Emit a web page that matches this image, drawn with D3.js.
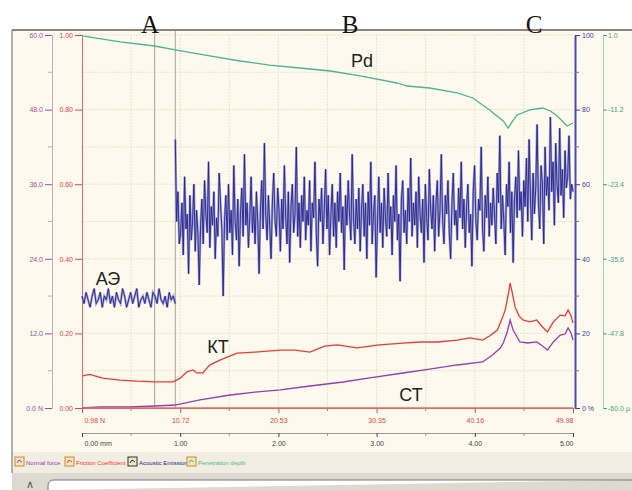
<!DOCTYPE html>
<html>
<head>
<meta charset="utf-8">
<script src="https://d3js.org/d3.v7.min.js"></script>
<style>
  body { margin: 0; background: #fff; }
  svg { display: block; }
  .axis text { font-family: "Liberation Sans", Arial, sans-serif; font-size: 7px; }
  .lbl { font-family: "Liberation Sans", Arial, sans-serif; font-size: 18px; fill: #222; }
  .mark { font-family: "Liberation Serif", "Times New Roman", serif; font-size: 25px; fill: #111; }
</style>
</head>
<body>
<script>
// distance along scratch, mm
var loadLabels = ["0.98 N", "10.72", "20.53", "30.35", "40.16", "49.98"];
var distLabels = ["0.00 mm", "1.00", "2.00", "3.00", "4.00", "5.00"];
var forceLabels = ["0.0 N", "12.0", "24.0", "36.0", "48.0", "60.0"];
var muLabels = ["0.00", "0.20", "0.40", "0.60", "0.80", "1.00"];
var aeLabels = ["0 %", "20", "40", "60", "80", "100"];
var pdLabels = ["-60.0 µ", "-47.8", "-35.6", "-23.4", "-11.2", "1.0"];

// КТ - friction coefficient
var ktDist = [0.01,0.08,0.21,0.39,0.56,0.74,0.93,1.00,1.07,1.13,1.17,1.23,1.30,1.41,1.58,1.76,2.02,2.17,2.32,2.47,2.60,2.80,3.03,3.27,3.44,3.62,3.82,3.95,4.08,4.15,4.23,4.28,4.31,4.34,4.36,4.38,4.41,4.45,4.49,4.56,4.63,4.68,4.74,4.80,4.87,4.92,4.95,4.98,5.00];
var ktVals = [0.086,0.090,0.080,0.075,0.072,0.070,0.070,0.080,0.097,0.102,0.094,0.094,0.115,0.129,0.147,0.150,0.155,0.155,0.150,0.166,0.169,0.161,0.169,0.174,0.177,0.177,0.182,0.188,0.182,0.193,0.209,0.241,0.263,0.303,0.335,0.311,0.271,0.247,0.236,0.231,0.236,0.220,0.204,0.231,0.249,0.247,0.263,0.247,0.228];

// СТ - force, N
var ctDist = [0,0.18,0.49,0.74,0.95,1.20,1.51,1.76,2.02,2.32,2.66,2.93,3.27,3.54,3.82,4.08,4.18,4.26,4.29,4.33,4.36,4.39,4.43,4.46,4.54,4.63,4.69,4.74,4.80,4.87,4.92,4.95,4.98,5.00];
var ctVals = [0.0,0.16,0.16,0.32,0.48,1.29,2.09,2.57,2.90,3.54,4.18,4.83,5.63,6.27,6.92,7.40,8.53,9.65,10.46,12.23,14.16,12.55,11.42,10.62,10.46,10.62,9.98,9.33,10.62,11.74,11.90,12.87,12.07,10.94];

// Pd - penetration depth, µm
var pdDist = [0,0.39,0.74,0.95,1.30,1.61,1.91,2.22,2.53,2.83,3.21,3.31,3.54,3.82,3.98,4.15,4.29,4.34,4.38,4.43,4.56,4.69,4.77,4.84,4.94,5.00];
var pdVals = [0.84,-0.14,-0.80,-1.45,-2.43,-3.25,-3.91,-4.40,-4.89,-5.70,-6.85,-7.34,-7.67,-8.48,-9.30,-11.26,-13.06,-14.21,-13.22,-12.08,-11.26,-10.94,-11.43,-12.24,-13.88,-13.39];

// АЭ - acoustic emission, %
var aePre = [30,28,31,29,27,30,32,28,29,31,27,30,29,32,28,30,27,31,29,28,32,30,27,29,31,28,30,32,27,29,30,28,31,29,27,31,30,28,32,29,28,30,27,31,29,30,28];
var aePost = [72,50,58,44,47,55,41,62,48,52,36,57,45,50,60,42,53,47,33,49,
  56,44,61,52,47,66,43,54,49,58,40,51,46,63,55,48,30,50,57,45,
  60,47,53,41,65,50,45,56,38,52,59,46,68,49,55,43,51,62,47,54,
  44,58,50,36,53,61,48,71,52,45,57,49,40,55,63,50,46,59,53,42,
  56,48,65,51,44,58,39,54,60,47,52,70,46,55,43,57,50,62,45,53,
  49,61,42,55,51,66,47,38,56,50,59,44,53,64,48,57,41,52,60,46,
  55,43,58,50,63,47,54,37,57,49,61,52,45,68,51,44,56,48,59,42,
  53,60,46,55,40,58,49,66,44,52,57,35,50,62,47,55,43,59,51,46,
  63,48,54,41,57,50,65,45,52,34,56,61,47,53,44,59,50,67,46,55,
  49,58,43,62,52,47,56,39,60,51,45,64,53,48,57,42,55,61,46,53,
  68,50,44,57,52,61,47,40,55,63,49,53,45,59,51,66,48,56,43,54,
  60,47,52,38,58,65,50,45,56,53,70,48,42,57,51,62,46,55,49,59,
  52,44,63,55,73,48,57,50,41,60,54,66,47,58,39,56,62,51,69,53,
  58,46,61,54,67,50,72,57,45,63,52,59,76,55,48,65,60,44,70,57,
  62,53,78,58,66,49,71,60,55,75,57,64,51,69,59,62,73,56,60,58];
var aeSwitch = 0.95;

var markerDist = [0.74, 0.95];
var sections = ["A", "B", "C"];
var legendNames = ["Normal force", "Friction Coefficient", "Acoustic Emission", "Penetration depth"];

var W = 632, H = 490;
var pL = 82, pR = 573, pT = 35, pB = 408;

var svg = d3.select("body").append("svg").attr("width", W).attr("height", H);

// window background
svg.append("rect").attr("x", 12).attr("y", 30).attr("width", W - 12).attr("height", 422).attr("fill", "#fdf9ec");
svg.append("rect").attr("x", 12).attr("y", 452).attr("width", W - 12).attr("height", 21).attr("fill", "#f1ede0");
svg.append("rect").attr("x", 12).attr("y", 473).attr("width", W - 12).attr("height", 17).attr("fill", "#dedad0");
svg.append("path").attr("d", "M48,490 L48,486 Q48,480 54,480 L632,480")
  .attr("fill", "#fff").attr("stroke", "#777").attr("stroke-width", 1);
svg.append("text").attr("x", 26).attr("y", 488).attr("font-size", 11).attr("fill", "#555")
  .attr("font-family", "Liberation Sans, sans-serif").text("∧");
svg.append("line").attr("x1", 12).attr("x2", 12).attr("y1", 30).attr("y2", 473).attr("stroke", "#9a968c").attr("stroke-width", 1.5);

var x = d3.scaleLinear().domain([0, 5]).range([pL, pR]);
var yN = d3.scaleLinear().domain([0, 60]).range([pB, pT]);
var yMu = d3.scaleLinear().domain([0, 1]).range([pB, pT]);
var yAE = d3.scaleLinear().domain([0, 100]).range([pB, pT]);
var yPd = d3.scaleLinear().domain([-60, 1]).range([pB, pT]);

// grid
var gridX = d3.range(0.5, 5, 0.5);
var gridY = d3.range(0.1, 1.0001, 0.1);
svg.append("g").selectAll("line").data(gridX).join("line")
  .attr("x1", d => x(d)).attr("x2", d => x(d)).attr("y1", pT).attr("y2", pB)
  .attr("stroke", "#ebe3cf").attr("stroke-dasharray", "2,1");
svg.append("g").selectAll("line").data(gridY).join("line")
  .attr("x1", pL).attr("x2", pR).attr("y1", d => yMu(d)).attr("y2", d => yMu(d))
  .attr("stroke", "#ebe3cf").attr("stroke-dasharray", "2,1");

// marker lines
svg.append("g").selectAll("line").data(markerDist).join("line")
  .attr("x1", d => x(d)).attr("x2", d => x(d)).attr("y1", 30).attr("y2", pB)
  .attr("stroke", "#a8a296").attr("stroke-width", 1);

function styleAxis(g, color, lineColor) {
  g.attr("class", "axis");
  g.select(".domain").attr("stroke", lineColor || color);
  g.selectAll(".tick line").attr("stroke", color);
  g.selectAll(".tick text").attr("fill", color);
}

var majors = [0, 1, 2, 3, 4, 5];

// left axes
svg.append("g").attr("transform", "translate(52,0)")
  .call(d3.axisLeft(yN).tickValues([0, 12, 24, 36, 48, 60]).tickFormat((d, i) => forceLabels[i]).tickSize(7).tickSizeOuter(0).tickPadding(2))
  .call(g => styleAxis(g, "#a0509c", "#c2acc0"));
svg.append("g").attr("transform", "translate(82,0)")
  .call(d3.axisLeft(yMu).tickValues([0, 0.2, 0.4, 0.6, 0.8, 1]).tickFormat((d, i) => muLabels[i]).tickSize(7).tickSizeOuter(0).tickPadding(2))
  .call(g => styleAxis(g, "#e04848", "#e46a6a"));

// right axes
svg.append("g").attr("transform", "translate(575,0)")
  .call(d3.axisRight(yAE).tickValues([0, 20, 40, 60, 80, 100]).tickFormat((d, i) => aeLabels[i]).tickSize(5).tickSizeOuter(0).tickPadding(2))
  .call(g => styleAxis(g, "#3c3ca0", "#4a4ab0"))
  .select(".domain").attr("stroke-width", 2);
svg.append("g").attr("transform", "translate(603,0)")
  .call(d3.axisRight(yPd).tickValues([-60, -47.8, -35.6, -23.4, -11.2, 1]).tickFormat((d, i) => pdLabels[i]).tickSize(4).tickSizeOuter(0).tickPadding(1))
  .call(g => styleAxis(g, "#3aa888", "#9ad6c0"));

// minor ticks on vertical axes
var minorY = [0.1, 0.3, 0.5, 0.7, 0.9];
svg.append("g").selectAll("line").data(minorY).join("line")
  .attr("x1", 48).attr("x2", 52).attr("y1", d => yMu(d)).attr("y2", d => yMu(d)).attr("stroke", "#c2acc0");
svg.append("g").selectAll("line").data(minorY).join("line")
  .attr("x1", 575).attr("x2", 579).attr("y1", d => yMu(d)).attr("y2", d => yMu(d)).attr("stroke", "#7070b8");

// bottom axes
var xa1 = svg.append("g").attr("transform", "translate(0," + pB + ")")
  .call(d3.axisBottom(x).tickValues(majors).tickFormat((d, i) => loadLabels[i]).tickSize(5).tickSizeOuter(0).tickPadding(5))
  .call(g => styleAxis(g, "#e04848", "#e46a6a"));
var xa2 = svg.append("g").attr("transform", "translate(0,433)")
  .call(d3.axisBottom(x).tickValues(majors).tickFormat((d, i) => distLabels[i]).tickSize(4).tickSizeOuter(0).tickPadding(4))
  .call(g => styleAxis(g, "#444", "#9a9a9a"));
[xa1, xa2].forEach(function (g) {
  g.selectAll(".tick text").filter((d, i) => i === 0).attr("text-anchor", "start").attr("dx", 2);
  g.selectAll(".tick text").filter((d, i) => i === 5).attr("text-anchor", "end");
});
var minorX = [0.5, 1.5, 2.5, 3.5, 4.5];
svg.append("g").selectAll("line").data(minorX).join("line")
  .attr("x1", d => x(d)).attr("x2", d => x(d)).attr("y1", pB).attr("y2", pB + 3).attr("stroke", "#e46a6a");
svg.append("g").selectAll("line").data(minorX).join("line")
  .attr("x1", d => x(d)).attr("x2", d => x(d)).attr("y1", 433).attr("y2", 436).attr("stroke", "#9a9a9a");

// series
var lineXY = (xs, ys, yScale) => d3.line().x((d, i) => x(xs[i])).y(d => yScale(d))(ys);

var preDist = aePre.map((d, i) => aeSwitch * i / (aePre.length - 1));
var postDist = aePost.map((d, i) => aeSwitch + (5 - aeSwitch) * i / (aePost.length - 1));

[[preDist, aePre], [postDist, aePost]].forEach(function (s) {
  svg.append("path").attr("d", lineXY(s[0], s[1], yAE))
    .attr("fill", "none").attr("stroke", "#8888cc").attr("stroke-width", 2.4).attr("stroke-opacity", 0.75);
  svg.append("path").attr("d", lineXY(s[0], s[1], yAE))
    .attr("fill", "none").attr("stroke", "#22228a").attr("stroke-width", 0.9);
});

svg.append("path").attr("d", lineXY(pdDist, pdVals, yPd))
  .attr("fill", "none").attr("stroke", "#4cb496").attr("stroke-width", 1.3);
svg.append("path").attr("d", lineXY(ctDist, ctVals, yN))
  .attr("fill", "none").attr("stroke", "#9040b0").attr("stroke-width", 1.3);
svg.append("path").attr("d", lineXY(ktDist, ktVals, yMu))
  .attr("fill", "none").attr("stroke", "#ea3a3a").attr("stroke-width", 1.3);

// red frame of the plot
svg.append("line").attr("x1", pL).attr("x2", pR).attr("y1", pB).attr("y2", pB).attr("stroke", "#e46a6a").attr("stroke-width", 1.5);

// curve names
svg.append("text").attr("class", "lbl").attr("x", 362).attr("y", 67).attr("text-anchor", "middle").text("Pd");
svg.append("text").attr("class", "lbl").attr("x", 108).attr("y", 285).attr("text-anchor", "middle").text("АЭ");
svg.append("text").attr("class", "lbl").attr("x", 218).attr("y", 353).attr("text-anchor", "middle").text("КТ");
svg.append("text").attr("class", "lbl").attr("x", 411).attr("y", 401).attr("text-anchor", "middle").text("СТ");

// top border and section letters
svg.append("line").attr("x1", 12).attr("x2", W).attr("y1", 30).attr("y2", 30).attr("stroke", "#8a867c").attr("stroke-width", 2);
var secX = [150, 350, 534];
svg.append("g").selectAll("text").data(sections).join("text").attr("class", "mark")
  .attr("x", (d, i) => secX[i]).attr("y", 33).attr("text-anchor", "middle").text(d => d);

// legend
var legColors = ["#9040b0", "#ea3a3a", "#24248a", "#4cb496"];
var legX = [15, 65, 128, 187];
var leg = svg.append("g").selectAll("g").data(legendNames).join("g")
  .attr("transform", (d, i) => "translate(" + legX[i] + ",457)");
leg.append("rect").attr("width", 9).attr("height", 9).attr("fill", "#f6e6c0").attr("stroke", (d, i) => i === 2 ? "#333" : "#c88a38");
leg.append("path").attr("d", "M2,6 L4,3 L7,5").attr("fill", "none").attr("stroke", (d, i) => legColors[i]);
leg.append("text").attr("x", 11).attr("y", 7.5).attr("font-size", 6).attr("font-family", "Liberation Sans, sans-serif")
  .attr("fill", (d, i) => legColors[i]).text(d => d);
</script>
</body>
</html>
